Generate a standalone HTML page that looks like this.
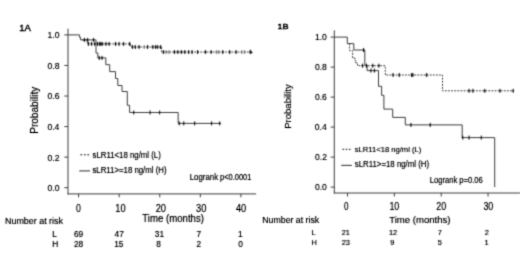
<!DOCTYPE html>
<html><head><meta charset="utf-8"><style>
html,body{margin:0;padding:0;background:#fff;}
body{width:520px;height:254px;overflow:hidden;}
svg{display:block;font-family:"Liberation Sans",sans-serif;}
</style></head><body>
<svg width="520" height="254" viewBox="0 0 520 254">
<rect width="520" height="254" fill="#fff"/>
<defs>
<filter id="ft" filterUnits="userSpaceOnUse" x="0" y="0" width="520" height="254"><feConvolveMatrix order="3" kernelMatrix="1 4 1 4 16 4 1 4 1" divisor="36.0" edgeMode="none"/><feComponentTransfer><feFuncA type="linear" slope="1.25"/></feComponentTransfer></filter>
<filter id="fl" filterUnits="userSpaceOnUse" x="0" y="0" width="520" height="254"><feConvolveMatrix order="3" kernelMatrix="1 4 1 4 16 4 1 4 1" divisor="36.0" edgeMode="none"/><feComponentTransfer><feFuncA type="linear" slope="1.0"/></feComponentTransfer></filter>
</defs>
<g filter="url(#fl)"><g transform="translate(0.3,0.3)">
<line x1="67.70" y1="28.40" x2="67.70" y2="194.10" stroke="#3c3c3c" stroke-width="1" />
<line x1="67.20" y1="193.60" x2="255.80" y2="193.60" stroke="#3c3c3c" stroke-width="1" />
<line x1="64.00" y1="187.40" x2="67.70" y2="187.40" stroke="#3c3c3c" stroke-width="1" />
<line x1="64.00" y1="156.84" x2="67.70" y2="156.84" stroke="#3c3c3c" stroke-width="1" />
<line x1="64.00" y1="126.28" x2="67.70" y2="126.28" stroke="#3c3c3c" stroke-width="1" />
<line x1="64.00" y1="95.72" x2="67.70" y2="95.72" stroke="#3c3c3c" stroke-width="1" />
<line x1="64.00" y1="65.16" x2="67.70" y2="65.16" stroke="#3c3c3c" stroke-width="1" />
<line x1="64.00" y1="34.60" x2="67.70" y2="34.60" stroke="#3c3c3c" stroke-width="1" />
<line x1="78.30" y1="193.60" x2="78.30" y2="197.00" stroke="#3c3c3c" stroke-width="1" />
<line x1="118.88" y1="193.60" x2="118.88" y2="197.00" stroke="#3c3c3c" stroke-width="1" />
<line x1="159.45" y1="193.60" x2="159.45" y2="197.00" stroke="#3c3c3c" stroke-width="1" />
<line x1="200.03" y1="193.60" x2="200.03" y2="197.00" stroke="#3c3c3c" stroke-width="1" />
<line x1="240.60" y1="193.60" x2="240.60" y2="197.00" stroke="#3c3c3c" stroke-width="1" />
<line x1="80.15" y1="154.40" x2="81.85" y2="154.40" stroke="#3c3c3c" stroke-width="1.3" />
<line x1="83.65" y1="154.40" x2="85.35" y2="154.40" stroke="#3c3c3c" stroke-width="1.3" />
<line x1="87.05" y1="154.40" x2="88.75" y2="154.40" stroke="#3c3c3c" stroke-width="1.3" />
<line x1="78.90" y1="170.60" x2="89.70" y2="170.60" stroke="#3c3c3c" stroke-width="1.1" />
<polygon points="249.9,49.0 249.9,53.4 252.6,52.6" fill="#222"/>
<path d="M82.00,39.60 L87.00,39.60 L87.00,39.60 L87.00,43.60 L130.30,43.60 L130.30,43.60 L130.30,46.70 L161.30,46.70 L161.30,46.70 L161.30,51.75 L250.50,51.75" fill="none" stroke="#333" stroke-width="1.0" stroke-dasharray="1.8 1.3"/>
<path d="M67.70,34.60 L79.30,34.60 L79.30,34.60 L79.30,37.20 L80.30,37.20 L80.30,37.20 L80.30,39.60 L95.70,39.60 L95.70,39.60 L95.70,52.70 L97.50,52.70 L97.50,52.70 L97.50,57.60 L105.50,57.60 L105.50,57.60 L105.50,64.40 L109.40,64.40 L109.40,64.40 L109.40,71.30 L115.20,71.30 L115.20,71.30 L115.20,78.20 L117.50,78.20 L117.50,78.20 L117.50,85.20 L121.70,85.20 L121.70,85.20 L121.70,91.20 L127.00,91.20 L127.00,91.20 L127.00,105.00 L129.30,105.00 L129.30,105.00 L129.30,112.20 L177.90,112.20 L177.90,112.20 L177.90,123.10 L220.80,123.10" fill="none" stroke="#3c3c3c" stroke-width="1"/>
<line x1="88.15" y1="41.55" x2="88.15" y2="45.65" stroke="#111111" stroke-width="1.0" />
<line x1="87.15" y1="43.60" x2="89.15" y2="43.60" stroke="#111111" stroke-width="1.0" />
<line x1="91.25" y1="41.55" x2="91.25" y2="45.65" stroke="#111111" stroke-width="1.0" />
<line x1="90.25" y1="43.60" x2="92.25" y2="43.60" stroke="#111111" stroke-width="1.0" />
<line x1="94.45" y1="41.55" x2="94.45" y2="45.65" stroke="#111111" stroke-width="1.0" />
<line x1="93.45" y1="43.60" x2="95.45" y2="43.60" stroke="#111111" stroke-width="1.0" />
<line x1="97.25" y1="41.55" x2="97.25" y2="45.65" stroke="#111111" stroke-width="1.0" />
<line x1="96.25" y1="43.60" x2="98.25" y2="43.60" stroke="#111111" stroke-width="1.0" />
<line x1="99.35" y1="41.55" x2="99.35" y2="45.65" stroke="#111111" stroke-width="1.0" />
<line x1="98.35" y1="43.60" x2="100.35" y2="43.60" stroke="#111111" stroke-width="1.0" />
<line x1="100.55" y1="41.55" x2="100.55" y2="45.65" stroke="#111111" stroke-width="1.0" />
<line x1="99.55" y1="43.60" x2="101.55" y2="43.60" stroke="#111111" stroke-width="1.0" />
<line x1="101.95" y1="41.55" x2="101.95" y2="45.65" stroke="#111111" stroke-width="1.0" />
<line x1="100.95" y1="43.60" x2="102.95" y2="43.60" stroke="#111111" stroke-width="1.0" />
<line x1="105.65" y1="41.55" x2="105.65" y2="45.65" stroke="#111111" stroke-width="1.0" />
<line x1="104.65" y1="43.60" x2="106.65" y2="43.60" stroke="#111111" stroke-width="1.0" />
<line x1="108.75" y1="41.55" x2="108.75" y2="45.65" stroke="#111111" stroke-width="1.0" />
<line x1="107.75" y1="43.60" x2="109.75" y2="43.60" stroke="#111111" stroke-width="1.0" />
<line x1="115.25" y1="41.55" x2="115.25" y2="45.65" stroke="#111111" stroke-width="1.0" />
<line x1="114.25" y1="43.60" x2="116.25" y2="43.60" stroke="#111111" stroke-width="1.0" />
<line x1="118.75" y1="41.55" x2="118.75" y2="45.65" stroke="#111111" stroke-width="1.0" />
<line x1="117.75" y1="43.60" x2="119.75" y2="43.60" stroke="#111111" stroke-width="1.0" />
<line x1="123.25" y1="41.55" x2="123.25" y2="45.65" stroke="#111111" stroke-width="1.0" />
<line x1="122.25" y1="43.60" x2="124.25" y2="43.60" stroke="#111111" stroke-width="1.0" />
<line x1="129.35" y1="41.55" x2="129.35" y2="45.65" stroke="#111111" stroke-width="1.0" />
<line x1="128.35" y1="43.60" x2="130.35" y2="43.60" stroke="#111111" stroke-width="1.0" />
<line x1="132.25" y1="44.65" x2="132.25" y2="48.75" stroke="#111111" stroke-width="1.0" />
<line x1="131.25" y1="46.70" x2="133.25" y2="46.70" stroke="#111111" stroke-width="1.0" />
<line x1="135.05" y1="44.65" x2="135.05" y2="48.75" stroke="#111111" stroke-width="1.0" />
<line x1="134.05" y1="46.70" x2="136.05" y2="46.70" stroke="#111111" stroke-width="1.0" />
<line x1="138.75" y1="44.65" x2="138.75" y2="48.75" stroke="#111111" stroke-width="1.0" />
<line x1="137.75" y1="46.70" x2="139.75" y2="46.70" stroke="#111111" stroke-width="1.0" />
<line x1="147.25" y1="44.65" x2="147.25" y2="48.75" stroke="#111111" stroke-width="1.0" />
<line x1="146.25" y1="46.70" x2="148.25" y2="46.70" stroke="#111111" stroke-width="1.0" />
<line x1="152.45" y1="44.65" x2="152.45" y2="48.75" stroke="#111111" stroke-width="1.0" />
<line x1="151.45" y1="46.70" x2="153.45" y2="46.70" stroke="#111111" stroke-width="1.0" />
<line x1="155.25" y1="44.65" x2="155.25" y2="48.75" stroke="#111111" stroke-width="1.0" />
<line x1="154.25" y1="46.70" x2="156.25" y2="46.70" stroke="#111111" stroke-width="1.0" />
<line x1="157.35" y1="44.65" x2="157.35" y2="48.75" stroke="#111111" stroke-width="1.0" />
<line x1="156.35" y1="46.70" x2="158.35" y2="46.70" stroke="#111111" stroke-width="1.0" />
<line x1="160.35" y1="44.65" x2="160.35" y2="48.75" stroke="#111111" stroke-width="1.0" />
<line x1="159.35" y1="46.70" x2="161.35" y2="46.70" stroke="#111111" stroke-width="1.0" />
<line x1="143.95" y1="44.65" x2="143.95" y2="48.75" stroke="#777" stroke-width="1.0" />
<line x1="142.95" y1="46.70" x2="144.95" y2="46.70" stroke="#777" stroke-width="1.0" />
<line x1="163.05" y1="49.70" x2="163.05" y2="53.80" stroke="#111111" stroke-width="1.0" />
<line x1="162.05" y1="51.75" x2="164.05" y2="51.75" stroke="#111111" stroke-width="1.0" />
<line x1="174.15" y1="49.70" x2="174.15" y2="53.80" stroke="#111111" stroke-width="1.0" />
<line x1="173.15" y1="51.75" x2="175.15" y2="51.75" stroke="#111111" stroke-width="1.0" />
<line x1="177.55" y1="49.70" x2="177.55" y2="53.80" stroke="#111111" stroke-width="1.0" />
<line x1="176.55" y1="51.75" x2="178.55" y2="51.75" stroke="#111111" stroke-width="1.0" />
<line x1="181.05" y1="49.70" x2="181.05" y2="53.80" stroke="#111111" stroke-width="1.0" />
<line x1="180.05" y1="51.75" x2="182.05" y2="51.75" stroke="#111111" stroke-width="1.0" />
<line x1="184.45" y1="49.70" x2="184.45" y2="53.80" stroke="#111111" stroke-width="1.0" />
<line x1="183.45" y1="51.75" x2="185.45" y2="51.75" stroke="#111111" stroke-width="1.0" />
<line x1="188.35" y1="49.70" x2="188.35" y2="53.80" stroke="#111111" stroke-width="1.0" />
<line x1="187.35" y1="51.75" x2="189.35" y2="51.75" stroke="#111111" stroke-width="1.0" />
<line x1="191.75" y1="49.70" x2="191.75" y2="53.80" stroke="#111111" stroke-width="1.0" />
<line x1="190.75" y1="51.75" x2="192.75" y2="51.75" stroke="#111111" stroke-width="1.0" />
<line x1="197.35" y1="49.70" x2="197.35" y2="53.80" stroke="#111111" stroke-width="1.0" />
<line x1="196.35" y1="51.75" x2="198.35" y2="51.75" stroke="#111111" stroke-width="1.0" />
<line x1="205.15" y1="49.70" x2="205.15" y2="53.80" stroke="#111111" stroke-width="1.0" />
<line x1="204.15" y1="51.75" x2="206.15" y2="51.75" stroke="#111111" stroke-width="1.0" />
<line x1="210.85" y1="49.70" x2="210.85" y2="53.80" stroke="#111111" stroke-width="1.0" />
<line x1="209.85" y1="51.75" x2="211.85" y2="51.75" stroke="#111111" stroke-width="1.0" />
<line x1="222.45" y1="49.70" x2="222.45" y2="53.80" stroke="#111111" stroke-width="1.0" />
<line x1="221.45" y1="51.75" x2="223.45" y2="51.75" stroke="#111111" stroke-width="1.0" />
<line x1="229.35" y1="49.70" x2="229.35" y2="53.80" stroke="#111111" stroke-width="1.0" />
<line x1="228.35" y1="51.75" x2="230.35" y2="51.75" stroke="#111111" stroke-width="1.0" />
<line x1="235.75" y1="49.70" x2="235.75" y2="53.80" stroke="#111111" stroke-width="1.0" />
<line x1="234.75" y1="51.75" x2="236.75" y2="51.75" stroke="#111111" stroke-width="1.0" />
<line x1="249.85" y1="49.70" x2="249.85" y2="53.80" stroke="#111111" stroke-width="1.0" />
<line x1="248.85" y1="51.75" x2="250.85" y2="51.75" stroke="#111111" stroke-width="1.0" />
<line x1="165.75" y1="49.70" x2="165.75" y2="53.80" stroke="#777" stroke-width="1.0" />
<line x1="164.75" y1="51.75" x2="166.75" y2="51.75" stroke="#777" stroke-width="1.0" />
<line x1="168.75" y1="49.70" x2="168.75" y2="53.80" stroke="#777" stroke-width="1.0" />
<line x1="167.75" y1="51.75" x2="169.75" y2="51.75" stroke="#777" stroke-width="1.0" />
<line x1="216.05" y1="49.70" x2="216.05" y2="53.80" stroke="#777" stroke-width="1.0" />
<line x1="215.05" y1="51.75" x2="217.05" y2="51.75" stroke="#777" stroke-width="1.0" />
<line x1="218.35" y1="49.70" x2="218.35" y2="53.80" stroke="#777" stroke-width="1.0" />
<line x1="217.35" y1="51.75" x2="219.35" y2="51.75" stroke="#777" stroke-width="1.0" />
<line x1="241.45" y1="49.70" x2="241.45" y2="53.80" stroke="#777" stroke-width="1.0" />
<line x1="240.45" y1="51.75" x2="242.45" y2="51.75" stroke="#777" stroke-width="1.0" />
<line x1="244.35" y1="49.70" x2="244.35" y2="53.80" stroke="#777" stroke-width="1.0" />
<line x1="243.35" y1="51.75" x2="245.35" y2="51.75" stroke="#777" stroke-width="1.0" />
<line x1="84.15" y1="37.55" x2="84.15" y2="41.65" stroke="#111111" stroke-width="1.0" />
<line x1="83.15" y1="39.60" x2="85.15" y2="39.60" stroke="#111111" stroke-width="1.0" />
<line x1="87.35" y1="37.55" x2="87.35" y2="41.65" stroke="#111111" stroke-width="1.0" />
<line x1="86.35" y1="39.60" x2="88.35" y2="39.60" stroke="#111111" stroke-width="1.0" />
<line x1="93.25" y1="37.55" x2="93.25" y2="41.65" stroke="#111111" stroke-width="1.0" />
<line x1="92.25" y1="39.60" x2="94.25" y2="39.60" stroke="#111111" stroke-width="1.0" />
<line x1="98.95" y1="55.55" x2="98.95" y2="59.65" stroke="#111111" stroke-width="1.0" />
<line x1="97.95" y1="57.60" x2="99.95" y2="57.60" stroke="#111111" stroke-width="1.0" />
<line x1="101.75" y1="55.55" x2="101.75" y2="59.65" stroke="#111111" stroke-width="1.0" />
<line x1="100.75" y1="57.60" x2="102.75" y2="57.60" stroke="#111111" stroke-width="1.0" />
<line x1="133.45" y1="110.15" x2="133.45" y2="114.25" stroke="#111111" stroke-width="1.0" />
<line x1="132.45" y1="112.20" x2="134.45" y2="112.20" stroke="#111111" stroke-width="1.0" />
<line x1="149.75" y1="110.15" x2="149.75" y2="114.25" stroke="#111111" stroke-width="1.0" />
<line x1="148.75" y1="112.20" x2="150.75" y2="112.20" stroke="#111111" stroke-width="1.0" />
<line x1="159.35" y1="110.15" x2="159.35" y2="114.25" stroke="#111111" stroke-width="1.0" />
<line x1="158.35" y1="112.20" x2="160.35" y2="112.20" stroke="#111111" stroke-width="1.0" />
<line x1="178.95" y1="121.05" x2="178.95" y2="125.15" stroke="#111111" stroke-width="1.0" />
<line x1="177.95" y1="123.10" x2="179.95" y2="123.10" stroke="#111111" stroke-width="1.0" />
<line x1="183.45" y1="121.05" x2="183.45" y2="125.15" stroke="#111111" stroke-width="1.0" />
<line x1="182.45" y1="123.10" x2="184.45" y2="123.10" stroke="#111111" stroke-width="1.0" />
<line x1="194.35" y1="121.05" x2="194.35" y2="125.15" stroke="#111111" stroke-width="1.0" />
<line x1="193.35" y1="123.10" x2="195.35" y2="123.10" stroke="#111111" stroke-width="1.0" />
<line x1="211.25" y1="121.05" x2="211.25" y2="125.15" stroke="#111111" stroke-width="1.0" />
<line x1="210.25" y1="123.10" x2="212.25" y2="123.10" stroke="#111111" stroke-width="1.0" />
<line x1="219.35" y1="121.05" x2="219.35" y2="125.15" stroke="#111111" stroke-width="1.0" />
<line x1="218.35" y1="123.10" x2="220.35" y2="123.10" stroke="#111111" stroke-width="1.0" />
<line x1="334.00" y1="30.00" x2="334.00" y2="193.20" stroke="#3c3c3c" stroke-width="1" />
<line x1="333.50" y1="192.70" x2="520.00" y2="192.70" stroke="#3c3c3c" stroke-width="1" />
<line x1="330.40" y1="186.80" x2="334.00" y2="186.80" stroke="#3c3c3c" stroke-width="1" />
<line x1="330.40" y1="156.80" x2="334.00" y2="156.80" stroke="#3c3c3c" stroke-width="1" />
<line x1="330.40" y1="126.80" x2="334.00" y2="126.80" stroke="#3c3c3c" stroke-width="1" />
<line x1="330.40" y1="96.80" x2="334.00" y2="96.80" stroke="#3c3c3c" stroke-width="1" />
<line x1="330.40" y1="66.80" x2="334.00" y2="66.80" stroke="#3c3c3c" stroke-width="1" />
<line x1="330.40" y1="36.80" x2="334.00" y2="36.80" stroke="#3c3c3c" stroke-width="1" />
<line x1="347.20" y1="192.70" x2="347.20" y2="196.20" stroke="#3c3c3c" stroke-width="1" />
<line x1="394.05" y1="192.70" x2="394.05" y2="196.20" stroke="#3c3c3c" stroke-width="1" />
<line x1="440.90" y1="192.70" x2="440.90" y2="196.20" stroke="#3c3c3c" stroke-width="1" />
<line x1="487.75" y1="192.70" x2="487.75" y2="196.20" stroke="#3c3c3c" stroke-width="1" />
<line x1="342.15" y1="149.10" x2="343.85" y2="149.10" stroke="#3c3c3c" stroke-width="1.3" />
<line x1="345.35" y1="149.10" x2="347.05" y2="149.10" stroke="#3c3c3c" stroke-width="1.3" />
<line x1="348.55" y1="149.10" x2="350.25" y2="149.10" stroke="#3c3c3c" stroke-width="1.3" />
<line x1="340.90" y1="165.10" x2="351.60" y2="165.10" stroke="#3c3c3c" stroke-width="1.1" />
<path d="M349.30,43.30 L349.30,43.30 L349.30,50.40 L352.30,50.40 L352.30,50.40 L352.30,57.90 L355.00,57.90 L355.00,57.90 L355.00,62.40 L357.20,62.40 L357.20,62.40 L357.20,65.40 L385.00,65.40 L385.00,65.40 L385.00,74.70 L442.20,74.70 L442.20,74.70 L442.20,90.50 L513.70,90.50" fill="none" stroke="#333" stroke-width="1.0" stroke-dasharray="1.8 1.3"/>
<path d="M334.00,36.80 L347.00,36.80 L347.00,36.80 L347.00,43.30 L353.50,43.30 L353.50,43.30 L353.50,49.70 L364.50,49.70 L364.50,49.70 L364.50,64.80 L366.80,64.80 L366.80,64.80 L366.80,70.30 L378.20,70.30 L378.20,70.30 L378.20,86.00 L381.30,86.00 L381.30,86.00 L381.30,95.00 L383.60,95.00 L383.60,95.00 L383.60,108.80 L392.40,108.80 L392.40,108.80 L392.40,117.10 L405.00,117.10 L405.00,117.10 L405.00,124.60 L461.90,124.60 L461.90,124.60 L461.90,137.30 L494.40,137.30 L494.40,137.30 L494.40,186.80" fill="none" stroke="#3c3c3c" stroke-width="1"/>
<line x1="362.25" y1="63.35" x2="362.25" y2="67.45" stroke="#111111" stroke-width="1.0" />
<line x1="361.25" y1="65.40" x2="363.25" y2="65.40" stroke="#111111" stroke-width="1.0" />
<line x1="366.25" y1="63.35" x2="366.25" y2="67.45" stroke="#111111" stroke-width="1.0" />
<line x1="365.25" y1="65.40" x2="367.25" y2="65.40" stroke="#111111" stroke-width="1.0" />
<line x1="372.45" y1="63.35" x2="372.45" y2="67.45" stroke="#111111" stroke-width="1.0" />
<line x1="371.45" y1="65.40" x2="373.45" y2="65.40" stroke="#111111" stroke-width="1.0" />
<line x1="378.55" y1="63.35" x2="378.55" y2="67.45" stroke="#111111" stroke-width="1.0" />
<line x1="377.55" y1="65.40" x2="379.55" y2="65.40" stroke="#111111" stroke-width="1.0" />
<line x1="392.75" y1="72.65" x2="392.75" y2="76.75" stroke="#111111" stroke-width="1.0" />
<line x1="391.75" y1="74.70" x2="393.75" y2="74.70" stroke="#111111" stroke-width="1.0" />
<line x1="398.95" y1="72.65" x2="398.95" y2="76.75" stroke="#111111" stroke-width="1.0" />
<line x1="397.95" y1="74.70" x2="399.95" y2="74.70" stroke="#111111" stroke-width="1.0" />
<line x1="411.35" y1="72.65" x2="411.35" y2="76.75" stroke="#111111" stroke-width="1.0" />
<line x1="410.35" y1="74.70" x2="412.35" y2="74.70" stroke="#111111" stroke-width="1.0" />
<line x1="412.55" y1="72.65" x2="412.55" y2="76.75" stroke="#111111" stroke-width="1.0" />
<line x1="411.55" y1="74.70" x2="413.55" y2="74.70" stroke="#111111" stroke-width="1.0" />
<line x1="426.35" y1="72.65" x2="426.35" y2="76.75" stroke="#111111" stroke-width="1.0" />
<line x1="425.35" y1="74.70" x2="427.35" y2="74.70" stroke="#111111" stroke-width="1.0" />
<line x1="468.75" y1="88.45" x2="468.75" y2="92.55" stroke="#111111" stroke-width="1.0" />
<line x1="467.75" y1="90.50" x2="469.75" y2="90.50" stroke="#111111" stroke-width="1.0" />
<line x1="472.65" y1="88.45" x2="472.65" y2="92.55" stroke="#111111" stroke-width="1.0" />
<line x1="471.65" y1="90.50" x2="473.65" y2="90.50" stroke="#111111" stroke-width="1.0" />
<line x1="484.45" y1="88.45" x2="484.45" y2="92.55" stroke="#111111" stroke-width="1.0" />
<line x1="483.45" y1="90.50" x2="485.45" y2="90.50" stroke="#111111" stroke-width="1.0" />
<line x1="499.65" y1="88.45" x2="499.65" y2="92.55" stroke="#111111" stroke-width="1.0" />
<line x1="498.65" y1="90.50" x2="500.65" y2="90.50" stroke="#111111" stroke-width="1.0" />
<line x1="512.85" y1="88.45" x2="512.85" y2="92.55" stroke="#111111" stroke-width="1.0" />
<line x1="511.85" y1="90.50" x2="513.85" y2="90.50" stroke="#111111" stroke-width="1.0" />
<line x1="363.25" y1="47.65" x2="363.25" y2="51.75" stroke="#111111" stroke-width="1.0" />
<line x1="362.25" y1="49.70" x2="364.25" y2="49.70" stroke="#111111" stroke-width="1.0" />
<line x1="370.65" y1="68.25" x2="370.65" y2="72.35" stroke="#111111" stroke-width="1.0" />
<line x1="369.65" y1="70.30" x2="371.65" y2="70.30" stroke="#111111" stroke-width="1.0" />
<line x1="374.15" y1="68.25" x2="374.15" y2="72.35" stroke="#111111" stroke-width="1.0" />
<line x1="373.15" y1="70.30" x2="375.15" y2="70.30" stroke="#111111" stroke-width="1.0" />
<line x1="410.65" y1="122.55" x2="410.65" y2="126.65" stroke="#111111" stroke-width="1.0" />
<line x1="409.65" y1="124.60" x2="411.65" y2="124.60" stroke="#111111" stroke-width="1.0" />
<line x1="429.95" y1="122.55" x2="429.95" y2="126.65" stroke="#111111" stroke-width="1.0" />
<line x1="428.95" y1="124.60" x2="430.95" y2="124.60" stroke="#111111" stroke-width="1.0" />
<line x1="462.45" y1="135.25" x2="462.45" y2="139.35" stroke="#111111" stroke-width="1.0" />
<line x1="461.45" y1="137.30" x2="463.45" y2="137.30" stroke="#111111" stroke-width="1.0" />
<line x1="468.75" y1="135.25" x2="468.75" y2="139.35" stroke="#111111" stroke-width="1.0" />
<line x1="467.75" y1="137.30" x2="469.75" y2="137.30" stroke="#111111" stroke-width="1.0" />
<line x1="480.95" y1="135.25" x2="480.95" y2="139.35" stroke="#111111" stroke-width="1.0" />
<line x1="479.95" y1="137.30" x2="481.95" y2="137.30" stroke="#111111" stroke-width="1.0" />
</g>
</g>
<g filter="url(#ft)" stroke="#1a1a1a" stroke-width="0.12">
<text transform="translate(19.29,31.10) scale(1.0426,1)" x="0" y="0" font-size="9.13" font-weight="normal" fill="#1a1a1a" stroke-width="0.3">1A</text>
<text transform="translate(47.49,191.10) scale(0.8637,1)" x="0" y="0" font-size="9.96" font-weight="normal" fill="#1a1a1a" stroke-width="0.1">0.0</text>
<text transform="translate(47.58,160.54) scale(0.8637,1)" x="0" y="0" font-size="9.96" font-weight="normal" fill="#1a1a1a" stroke-width="0.1">0.2</text>
<text transform="translate(47.40,129.98) scale(0.8637,1)" x="0" y="0" font-size="9.96" font-weight="normal" fill="#1a1a1a" stroke-width="0.1">0.4</text>
<text transform="translate(47.53,99.42) scale(0.8637,1)" x="0" y="0" font-size="9.96" font-weight="normal" fill="#1a1a1a" stroke-width="0.1">0.6</text>
<text transform="translate(47.49,68.86) scale(0.8637,1)" x="0" y="0" font-size="9.96" font-weight="normal" fill="#1a1a1a" stroke-width="0.1">0.8</text>
<text transform="translate(47.49,38.30) scale(0.8637,1)" x="0" y="0" font-size="9.96" font-weight="normal" fill="#1a1a1a" stroke-width="0.1">1.0</text>
<text transform="translate(38.10,133.81) rotate(-90)" x="0" y="0" font-size="10.08" fill="#1a1a1a">Probability</text>
<text transform="translate(75.97,211.80) scale(0.7597,1)" x="0" y="0" font-size="11.51" font-weight="normal" fill="#1a1a1a" stroke-width="0.1">0</text>
<text transform="translate(115.28,211.80) scale(0.8075,1)" x="0" y="0" font-size="11.51" font-weight="normal" fill="#1a1a1a" stroke-width="0.1">10</text>
<text transform="translate(155.69,211.80) scale(0.8085,1)" x="0" y="0" font-size="11.51" font-weight="normal" fill="#1a1a1a" stroke-width="0.1">20</text>
<text transform="translate(195.98,211.80) scale(0.8090,1)" x="0" y="0" font-size="11.51" font-weight="normal" fill="#1a1a1a" stroke-width="0.1">30</text>
<text transform="translate(235.90,211.80) scale(0.8096,1)" x="0" y="0" font-size="11.51" font-weight="normal" fill="#1a1a1a" stroke-width="0.1">40</text>
<text transform="translate(142.36,221.60) scale(0.9208,1)" x="0" y="0" font-size="10.45" font-weight="normal" fill="#1a1a1a">Time (months)</text>
<text x="4.99" y="224.30" font-size="8.93" font-weight="normal" fill="#1a1a1a" >Number at risk</text>
<text x="52.34" y="236.60" font-size="8.30" font-weight="normal" fill="#1a1a1a" >L</text>
<text x="52.24" y="247.20" font-size="8.30" font-weight="normal" fill="#1a1a1a" >H</text>
<text transform="translate(73.88,236.60) scale(0.9208,1)" x="0" y="0" font-size="9.01" font-weight="normal" fill="#1a1a1a">69</text>
<text transform="translate(114.59,236.60) scale(0.9197,1)" x="0" y="0" font-size="9.02" font-weight="normal" fill="#1a1a1a">47</text>
<text transform="translate(154.77,236.60) scale(0.9208,1)" x="0" y="0" font-size="9.01" font-weight="normal" fill="#1a1a1a">31</text>
<text transform="translate(196.49,236.60) scale(0.9197,1)" x="0" y="0" font-size="9.02" font-weight="normal" fill="#1a1a1a">7</text>
<text transform="translate(237.88,236.60) scale(0.9197,1)" x="0" y="0" font-size="9.02" font-weight="normal" fill="#1a1a1a">1</text>
<text transform="translate(73.88,247.20) scale(0.9208,1)" x="0" y="0" font-size="9.01" font-weight="normal" fill="#1a1a1a">28</text>
<text transform="translate(114.18,247.20) scale(0.9197,1)" x="0" y="0" font-size="9.02" font-weight="normal" fill="#1a1a1a">15</text>
<text transform="translate(156.23,247.20) scale(0.9208,1)" x="0" y="0" font-size="9.01" font-weight="normal" fill="#1a1a1a">8</text>
<text transform="translate(196.49,247.20) scale(0.9208,1)" x="0" y="0" font-size="9.01" font-weight="normal" fill="#1a1a1a">2</text>
<text transform="translate(238.17,247.20) scale(0.9208,1)" x="0" y="0" font-size="9.01" font-weight="normal" fill="#1a1a1a">0</text>
<text transform="translate(92.47,158.00) scale(0.9191,1)" x="0" y="0" font-size="8.52" font-weight="normal" fill="#1a1a1a">sLR11&lt;18 ng/ml (L)</text>
<text transform="translate(92.47,173.00) scale(0.9190,1)" x="0" y="0" font-size="8.51" font-weight="normal" fill="#1a1a1a">sLR11&gt;=18 ng/ml (H)</text>
<text transform="translate(189.77,180.20) scale(0.9343,1)" x="0" y="0" font-size="8.40" font-weight="normal" fill="#1a1a1a">Logrank</text>
<text transform="translate(220.12,180.20) scale(0.8837,1)" x="0" y="0" font-size="8.42" font-weight="normal" fill="#1a1a1a">p&lt;0.0001</text>
<text transform="translate(277.52,29.40) scale(1.1669,1)" x="0" y="0" font-size="7.83" font-weight="normal" fill="#1a1a1a" stroke-width="0.3">1B</text>
<text transform="translate(314.89,189.70) scale(0.8958,1)" x="0" y="0" font-size="9.60" font-weight="normal" fill="#1a1a1a" stroke-width="0.1">0.0</text>
<text transform="translate(314.98,159.70) scale(0.8958,1)" x="0" y="0" font-size="9.60" font-weight="normal" fill="#1a1a1a" stroke-width="0.1">0.2</text>
<text transform="translate(314.80,129.70) scale(0.8958,1)" x="0" y="0" font-size="9.60" font-weight="normal" fill="#1a1a1a" stroke-width="0.1">0.4</text>
<text transform="translate(314.93,99.70) scale(0.8958,1)" x="0" y="0" font-size="9.60" font-weight="normal" fill="#1a1a1a" stroke-width="0.1">0.6</text>
<text transform="translate(314.89,69.70) scale(0.8958,1)" x="0" y="0" font-size="9.60" font-weight="normal" fill="#1a1a1a" stroke-width="0.1">0.8</text>
<text transform="translate(314.89,39.70) scale(0.8958,1)" x="0" y="0" font-size="9.60" font-weight="normal" fill="#1a1a1a" stroke-width="0.1">1.0</text>
<text transform="translate(290.90,128.87) rotate(-90)" x="0" y="0" font-size="9.57" fill="#1a1a1a">Probability</text>
<text transform="translate(344.04,210.00) scale(0.7274,1)" x="0" y="0" font-size="11.17" font-weight="normal" fill="#1a1a1a" stroke-width="0.1">0</text>
<text transform="translate(389.41,210.00) scale(0.7964,1)" x="0" y="0" font-size="11.17" font-weight="normal" fill="#1a1a1a" stroke-width="0.1">10</text>
<text transform="translate(436.26,210.00) scale(0.7979,1)" x="0" y="0" font-size="11.17" font-weight="normal" fill="#1a1a1a" stroke-width="0.1">20</text>
<text transform="translate(483.40,210.00) scale(0.7985,1)" x="0" y="0" font-size="11.17" font-weight="normal" fill="#1a1a1a" stroke-width="0.1">30</text>
<text x="389.26" y="222.60" font-size="9.57" font-weight="normal" fill="#1a1a1a" >Time (months)</text>
<text x="262.30" y="223.00" font-size="8.76" font-weight="normal" fill="#1a1a1a" >Number at risk</text>
<text x="311.51" y="235.30" font-size="7.40" font-weight="normal" fill="#1a1a1a" >L</text>
<text x="311.51" y="244.60" font-size="7.40" font-weight="normal" fill="#1a1a1a" >H</text>
<text x="341.73" y="235.30" font-size="7.40" font-weight="normal" fill="#1a1a1a" >21</text>
<text x="388.94" y="235.30" font-size="7.40" font-weight="normal" fill="#1a1a1a" >12</text>
<text x="437.63" y="235.30" font-size="7.40" font-weight="normal" fill="#1a1a1a" >7</text>
<text x="484.63" y="235.30" font-size="7.40" font-weight="normal" fill="#1a1a1a" >2</text>
<text x="341.73" y="244.60" font-size="7.40" font-weight="normal" fill="#1a1a1a" >23</text>
<text x="390.17" y="244.60" font-size="7.40" font-weight="normal" fill="#1a1a1a" >9</text>
<text x="437.70" y="244.60" font-size="7.40" font-weight="normal" fill="#1a1a1a" >5</text>
<text x="484.44" y="244.60" font-size="7.40" font-weight="normal" fill="#1a1a1a" >1</text>
<text transform="translate(354.77,152.40) scale(0.9486,1)" x="0" y="0" font-size="8.05" font-weight="normal" fill="#1a1a1a">sLR11&lt;18 ng/ml (L)</text>
<text transform="translate(354.76,167.30) scale(0.9499,1)" x="0" y="0" font-size="8.26" font-weight="normal" fill="#1a1a1a">sLR11&gt;=18 ng/ml (H)</text>
<text transform="translate(429.69,183.40) scale(0.9327,1)" x="0" y="0" font-size="8.20" font-weight="normal" fill="#1a1a1a">Logrank</text>
<text transform="translate(459.30,183.40) scale(0.9305,1)" x="0" y="0" font-size="8.22" font-weight="normal" fill="#1a1a1a">p=0.06</text>
</g>
</svg>
</body></html>
